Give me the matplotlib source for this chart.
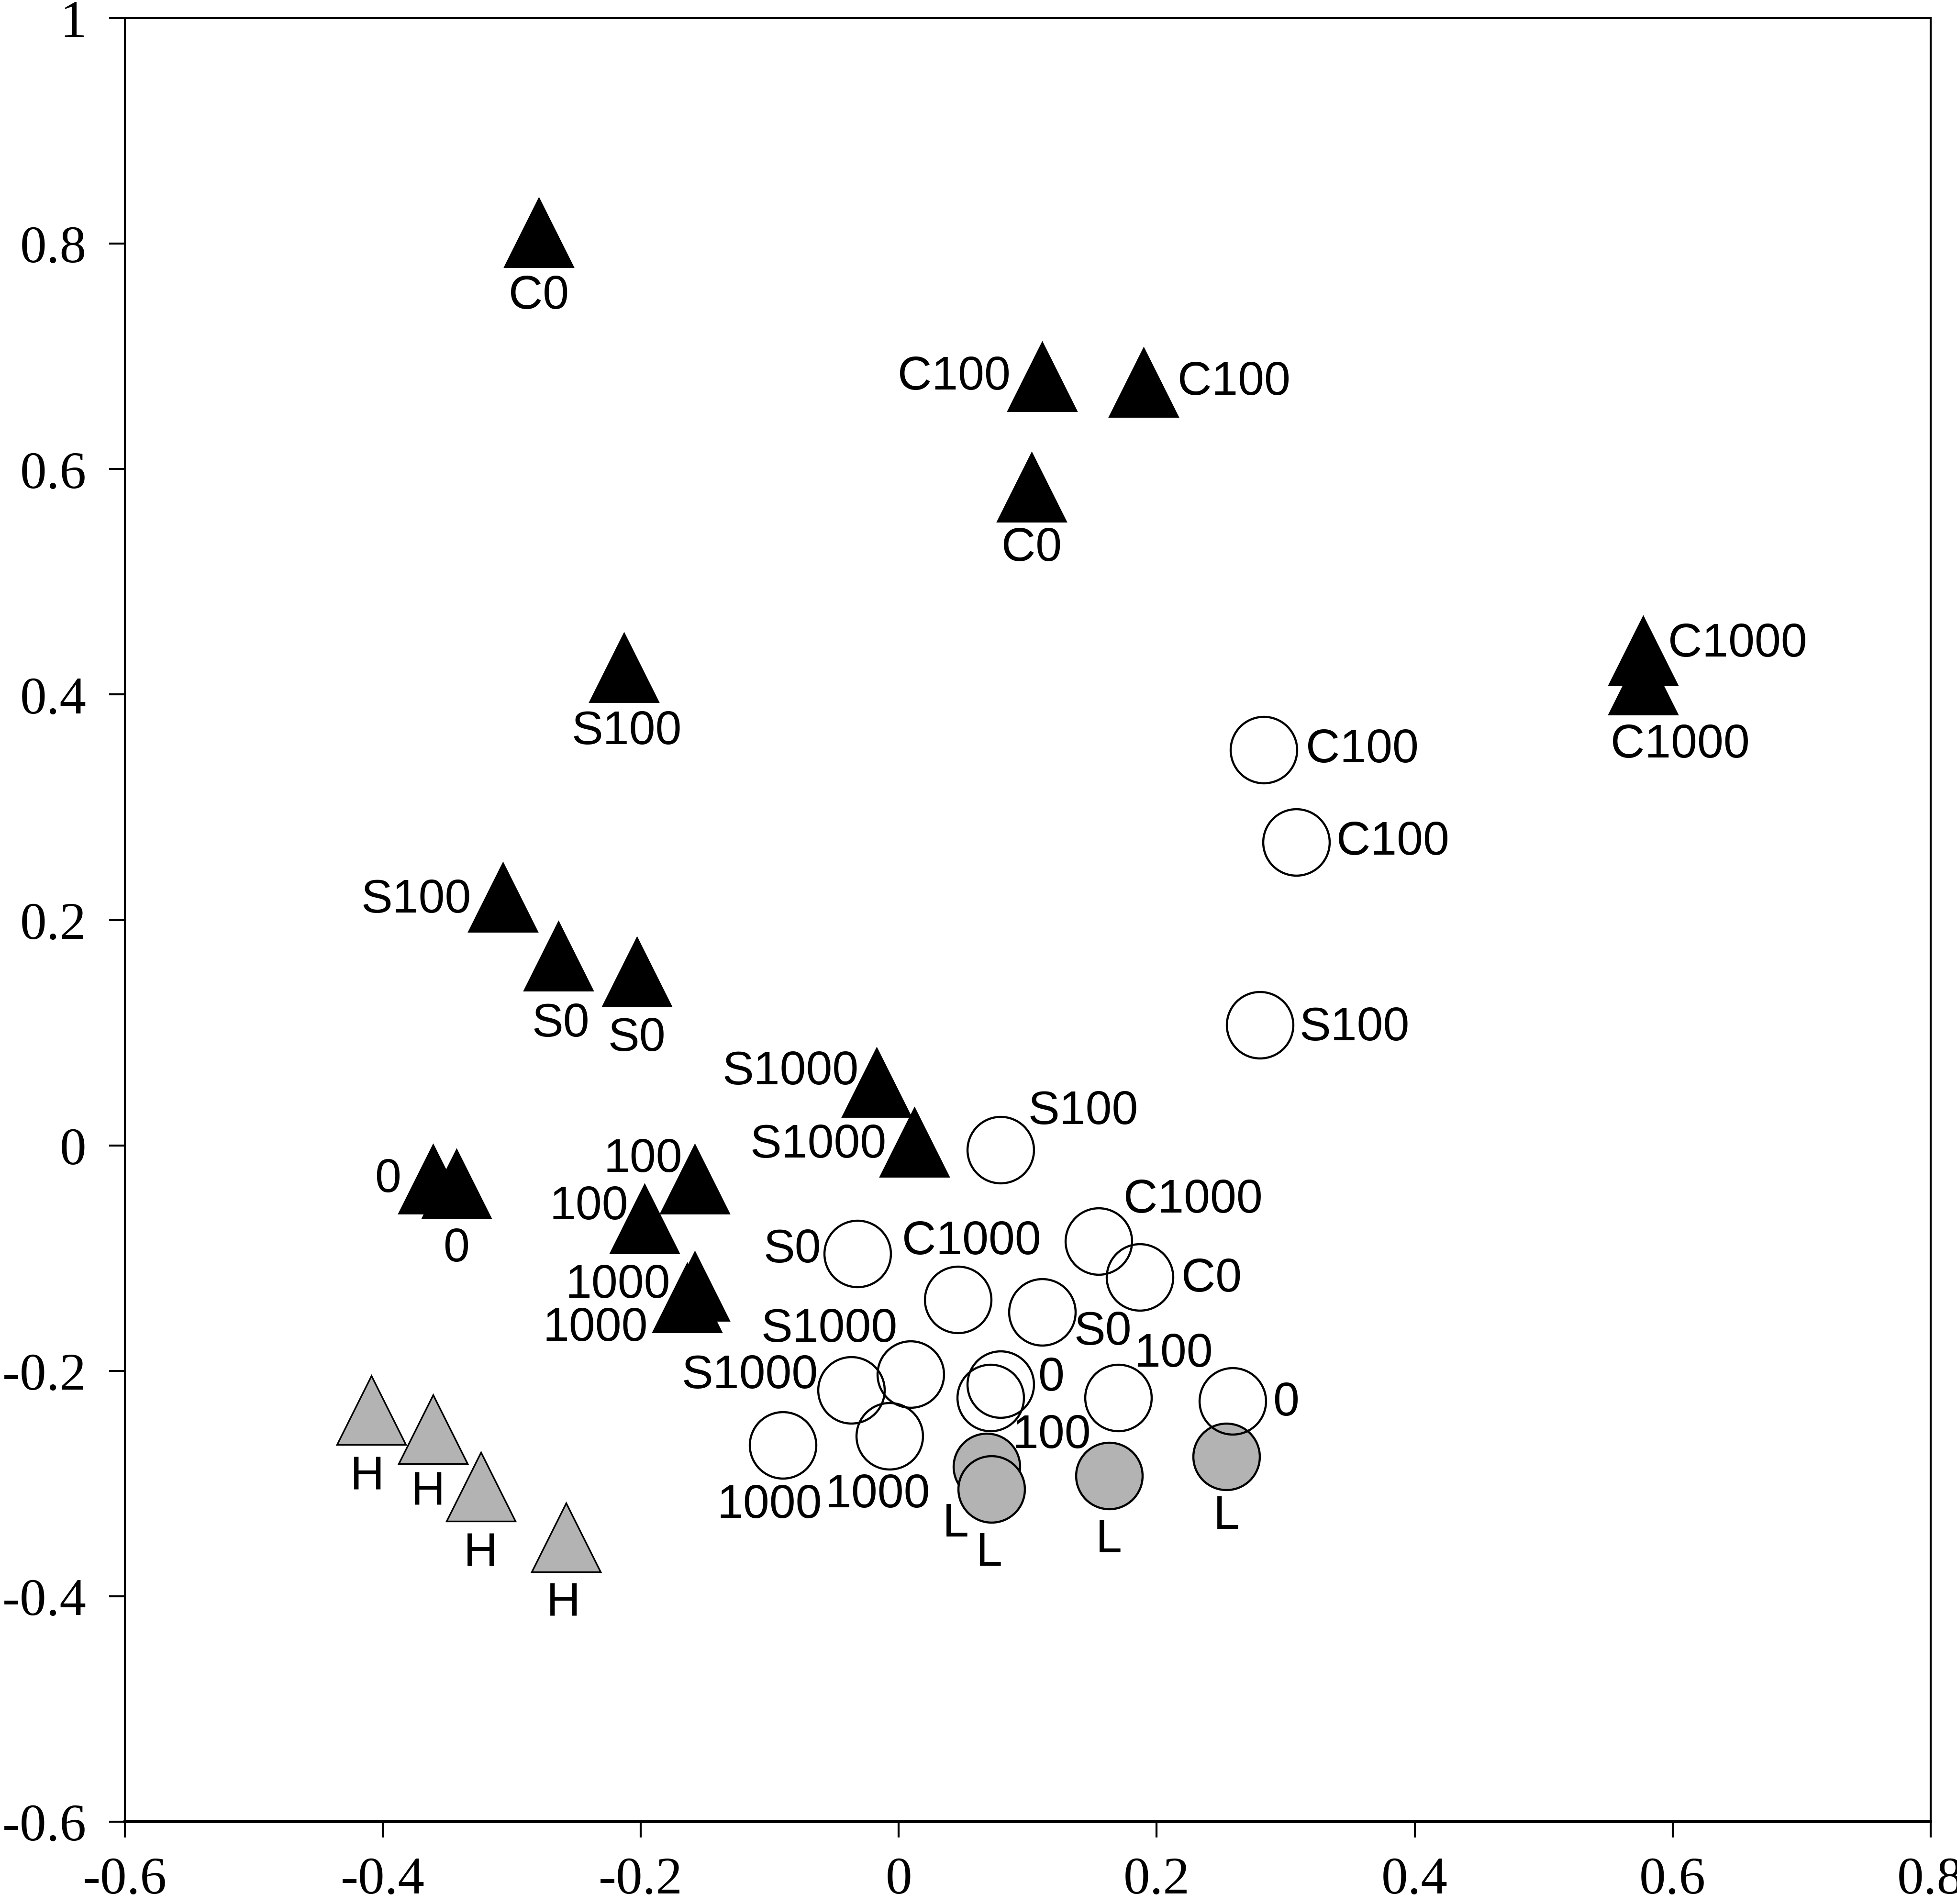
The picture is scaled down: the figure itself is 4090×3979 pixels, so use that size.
import matplotlib.pyplot as plt

# black triangles
tri_x = [-0.279, 0.111, 0.190, 0.103, 0.577, 0.577, -0.213, -0.307, -0.264, -0.203,
         -0.017, 0.012, -0.361, -0.343, -0.158, -0.197, -0.158, -0.164]
tri_y = [0.810, 0.682, 0.677, 0.584, 0.439, 0.413, 0.424, 0.220, 0.168, 0.154,
         0.056, 0.003, -0.030, -0.034, -0.030, -0.065, -0.125, -0.135]
tri_lab = ["C0", "C100", "C100", "C0", "C1000", "C1000", "S100", "S100", "S0", "S0",
           "S1000", "S1000", "0", "0", "100", "100", "1000", "1000"]

# grey triangles
htri_x = [-0.409, -0.361, -0.324, -0.258]
htri_y = [-0.235, -0.252, -0.303, -0.348]
htri_lab = ["H", "H", "H", "H"]

# open circles
circ_x = [0.283, 0.308, 0.280, 0.079, 0.155, 0.187, -0.032, 0.046, 0.111, 0.009,
          -0.037, 0.079, 0.071, 0.170, 0.259, -0.090, -0.007]
circ_y = [0.351, 0.269, 0.107, -0.004, -0.085, -0.117, -0.096, -0.137, -0.148, -0.203,
          -0.217, -0.212, -0.224, -0.224, -0.227, -0.266, -0.258]
circ_lab = ["C100", "C100", "S100", "S100", "C1000", "C0", "S0", "C1000", "S0", "S1000",
            "S1000", "0", "100", "100", "0", "1000", "1000"]

# grey circles
lcirc_x = [0.068, 0.072, 0.163, 0.254]
lcirc_y = [-0.285, -0.305, -0.293, -0.276]
lcirc_lab = ["L", "L", "L", "L"]

xticks = [-0.6, -0.4, -0.2, 0, 0.2, 0.4, 0.6, 0.8]
xtick_labels = ["-0.6", "-0.4", "-0.2", "0", "0.2", "0.4", "0.6", "0.8"]
yticks = [-0.6, -0.4, -0.2, 0, 0.2, 0.4, 0.6, 0.8, 1]
ytick_labels = ["-0.6", "-0.4", "-0.2", "0", "0.2", "0.4", "0.6", "0.8", "1"]

# label offsets (points) for each marker
tri_off = [(0, -48), (-66, 0), (68, 0), (0, -46), (71, 5), (28, -49), (2, -48), (-65, -2),
           (2, -51), (0, -50), (-65, 8), (-72, -2), (-34, 0), (0, -49), (-39, 15), (-42, 9),
           (-58, 1), (-69, -23)]
htri_off = [(-3, -50), (-4, -47), (0, -50), (-2, -49)]
circ_off = [(74, 0), (73, 0), (71, -2), (62, 29), (71, 31), (54, -1), (-49, 3), (10, 44),
            (46, -15), (-61, 34), (-76, 11), (38, 5), (46, -28), (42, 33), (40, -1),
            (-10, -45), (-9, -44)]
lcirc_off = [(-23, -43), (-2, -48), (0, -48), (0, -45)]

grey = "#b3b3b3"

fig = plt.figure(figsize=(20.45, 19.9), dpi=200)
ax = fig.add_axes([0.0638, 0.0432, 0.9227, 0.947])

ax.plot(tri_x, tri_y, ls="none", marker="^", ms=52, mfc="black", mec="black", mew=1)
ax.plot(htri_x, htri_y, ls="none", marker="^", ms=52, mfc=grey, mec="black", mew=1.2)
ax.plot(lcirc_x, lcirc_y, ls="none", marker="o", ms=50, mfc=grey, mec="black", mew=1.6)
ax.plot(circ_x, circ_y, ls="none", marker="o", ms=50, mfc="none", mec="black", mew=1.6)

def put_labels(xs, ys, labs, offs):
    for x, y, lab, (dx, dy) in zip(xs, ys, labs, offs):
        ax.annotate(lab, (x, y), xytext=(dx, dy), textcoords="offset points",
                    ha="center", va="center", fontsize=35.5, family="Liberation Sans")

put_labels(tri_x, tri_y, tri_lab, tri_off)
put_labels(htri_x, htri_y, htri_lab, htri_off)
put_labels(circ_x, circ_y, circ_lab, circ_off)
put_labels(lcirc_x, lcirc_y, lcirc_lab, lcirc_off)

ax.set_xlim(-0.6, 0.8)
ax.set_ylim(-0.6, 1)
ax.set_xticks(xticks)
ax.set_xticklabels(xtick_labels, family="Liberation Serif", fontsize=40)
ax.set_yticks(yticks)
ax.set_yticklabels(ytick_labels, family="Liberation Serif", fontsize=40)
ax.tick_params(direction="out", length=12, width=1.5)
ax.tick_params(axis="x", pad=14)
ax.tick_params(axis="y", pad=17)
for side in ["left", "top", "right"]:
    ax.spines[side].set_linewidth(1.5)
ax.spines["bottom"].set_linewidth(2.2)

fig.savefig("out.png", dpi=200)
